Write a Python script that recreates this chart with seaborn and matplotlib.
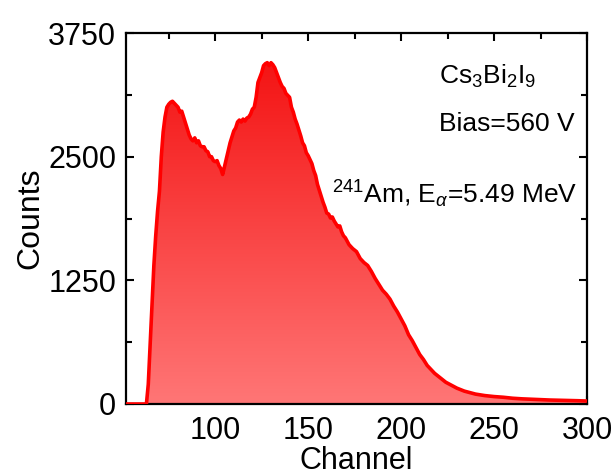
import numpy as np
import pandas as pd
import matplotlib
matplotlib.use("Agg")
import matplotlib.pyplot as plt
import seaborn as sns
from matplotlib.colors import LinearSegmentedColormap
from matplotlib.ticker import MultipleLocator

# Alpha-particle pulse-height spectrum (channel vs counts)
channel = [52, 60, 63, 64, 65, 66, 67, 68, 69, 70, 71, 72, 73, 74, 75, 76, 77, 78, 79, 80,
           81, 82, 83, 84, 85, 86, 87, 88, 89, 90, 91, 92, 93, 94, 95, 96, 97, 98, 99, 100,
           101, 102, 103, 104, 105, 106, 107, 108, 109, 110, 111, 112, 113, 114, 115, 116,
           117, 118, 119, 120, 121, 122, 123, 124, 125, 126, 127, 128, 129, 130, 131, 132,
           133, 134, 135, 136, 137, 138, 139, 140, 141, 142, 143, 144, 145, 146, 147, 148,
           149, 150, 151, 152, 153, 154, 155, 156, 157, 158, 159, 160, 161, 162, 163, 164,
           165, 166, 167, 168, 169, 170, 172, 174, 176, 178, 180, 182, 184, 186, 188, 190,
           192, 194, 196, 198, 200, 202, 204, 206, 208, 210, 212, 214, 216, 218, 220, 222,
           224, 226, 228, 230, 232, 234, 236, 238, 240, 245, 250, 255, 260, 265, 270, 275,
           280, 285, 290, 295, 300]
counts = [0, 0, 0, 200, 600, 1000, 1400, 1700, 1950, 2150, 2500, 2750, 2900, 3000, 3030,
          3050, 3060, 3040, 3020, 3000, 2950, 2960, 2900, 2840, 2780, 2720, 2680, 2660, 2690,
          2640, 2660, 2610, 2600, 2600, 2560, 2550, 2500, 2500, 2460, 2450, 2460, 2410, 2380,
          2320, 2400, 2480, 2560, 2640, 2700, 2760, 2790, 2850, 2870, 2850, 2880, 2860, 2890,
          2900, 2930, 2980, 3000, 3100, 3250, 3300, 3350, 3420, 3440, 3450, 3420, 3450, 3430,
          3400, 3350, 3300, 3250, 3210, 3190, 3140, 3120, 3100, 3000, 2950, 2880, 2830, 2770,
          2710, 2640, 2610, 2540, 2510, 2470, 2430, 2360, 2310, 2220, 2160, 2100, 2040, 1990,
          1930, 1920, 1880, 1890, 1850, 1820, 1790, 1800, 1740, 1700, 1680, 1610, 1570, 1540,
          1470, 1430, 1400, 1340, 1270, 1210, 1150, 1110, 1060, 990, 930, 860, 790, 700, 640,
          570, 500, 450, 390, 350, 310, 280, 250, 220, 200, 180, 160, 145, 130, 120, 110, 100,
          85, 75, 68, 58, 52, 48, 44, 40, 38, 35, 33, 30]

x_ticks = [100, 150, 200, 250, 300]
y_ticks = [0, 1250, 2500, 3750]

df = pd.DataFrame({"Channel": channel, "Counts": counts})

sns.set_theme(style="ticks")
plt.rcParams["font.family"] = ["Liberation Sans", "DejaVu Sans"]
plt.rcParams["mathtext.fontset"] = "custom"
plt.rcParams["mathtext.rm"] = "Liberation Sans"
plt.rcParams["mathtext.it"] = "Liberation Sans:italic"
plt.rcParams["text.color"] = "black"
plt.rcParams["axes.labelcolor"] = "black"

fig = plt.figure(figsize=(6.16, 4.75), dpi=100)
ax = fig.add_axes([0.2045, 0.1495, 0.7485, 0.781])

xmin, xmax = 52, 300
ymin, ymax = 0, 3750

# vertical red gradient fill under the spectrum
cmap = LinearSegmentedColormap.from_list("redfade", ["#ff7676", "#f41414"])
grad = np.linspace(0, 1, 256).reshape(-1, 1)
img = ax.imshow(grad, extent=[xmin, xmax, 0, max(counts)], origin="lower",
                aspect="auto", cmap=cmap, zorder=1)
poly = ax.fill_between(df["Channel"], df["Counts"], 0, color="none", lw=0)
img.set_clip_path(poly.get_paths()[0], transform=ax.transData)

sns.lineplot(data=df, x="Channel", y="Counts", ax=ax, color="#ff0000",
             linewidth=2.6, zorder=3)

ax.set_xlim(xmin, xmax)
ax.set_ylim(ymin, ymax)
ax.set_xticks(x_ticks)
ax.set_yticks(y_ticks)
ax.xaxis.set_minor_locator(MultipleLocator(25))
ax.yaxis.set_minor_locator(MultipleLocator(625))
ax.tick_params(which="both", direction="in", top=True, right=True,
               colors="black", labelcolor="black", labelsize=22, width=1.5)
ax.tick_params(axis="x", which="both", pad=9)
ax.tick_params(axis="y", which="both", pad=7)
ax.tick_params(which="major", length=6)
ax.tick_params(which="minor", length=4)
for s in ax.spines.values():
    s.set_linewidth(1.6)
    s.set_color("black")

ax.set_xlabel("Channel", fontsize=22, labelpad=0)
ax.set_ylabel("Counts", fontsize=23, labelpad=2)

ax.text(220.5, 3236, r"Cs$_3$Bi$_2$I$_9$", fontsize=19, ha="left", va="baseline")
ax.text(220.5, 2760, "Bias=560 V", fontsize=19, ha="left", va="baseline")
ax.text(163, 2032, r"$^{241}$Am, E$_\alpha$=5.49 MeV", fontsize=19,
        ha="left", va="baseline")

fig.savefig("out.png", dpi=100)
